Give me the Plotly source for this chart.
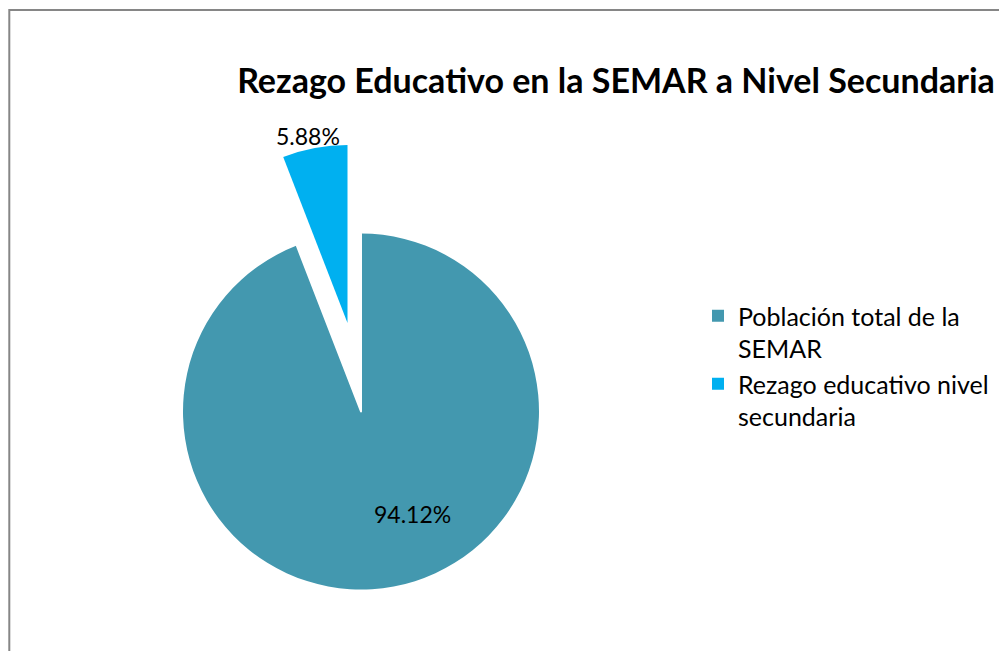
import plotly.graph_objects as go

# Data
labels = ["Población total de la<br>SEMAR", "Rezago educativo nivel<br>secundaria"]
values = [94.12, 5.88]
colors = ["#4398AF", "#00B0F0"]
title_text = "Rezago Educativo en la SEMAR a Nivel Secundaria"

W, H = 999, 651
FONT = "Lato, 'Open Sans', sans-serif"


def px(x):
    return x / W


def py(y):
    return 1 - y / H


# pie geometry in pixels (centre, radius, offset of the exploded slice)
cx, cy, r = 361, 411.5, 178
ex, ey = -13.5, -88.5


def dom(x0, y0, rad):
    return dict(x=[px(x0 - rad), px(x0 + rad)], y=[py(y0 + rad), py(y0 - rad)])


common = dict(
    labels=labels,
    values=values,
    sort=False,
    direction="clockwise",
    rotation=0,
)

total = sum(values)
pct = [v / total for v in values]

fig = go.Figure()

# full pie (gives the legend and the big slice)
fig.add_trace(go.Pie(
    **common,
    domain=dom(cx, cy, r),
    marker=dict(colors=colors, line=dict(width=0)),
    textinfo="none",
    hoverinfo="label+percent",
    showlegend=True,
))

# blank out the small slice at its original place
fig.add_trace(go.Pie(
    **common,
    domain=dom(cx, cy, r),
    marker=dict(colors=["rgba(0,0,0,0)", "#FFFFFF"],
                line=dict(color=["rgba(0,0,0,0)", "#FFFFFF"], width=[0, 2])),
    textinfo="none",
    hoverinfo="skip",
    showlegend=False,
))

# exploded small slice
fig.add_trace(go.Pie(
    **common,
    domain=dom(cx + ex, cy + ey, r),
    marker=dict(colors=["rgba(0,0,0,0)", colors[1]], line=dict(width=0)),
    textinfo="none",
    hoverinfo="label+percent",
    showlegend=False,
))

# data labels
label_pos = [(412, 514), (308, 135.5)]
for p, (lx, ly) in zip(pct, label_pos):
    fig.add_annotation(
        x=px(lx), y=py(ly), xref="paper", yref="paper",
        text=f"{p:.2%}", showarrow=False,
        xanchor="center", yanchor="middle",
        font=dict(family=FONT, size=23, color="#000000"),
    )

fig.update_layout(
    width=W,
    height=H,
    margin=dict(l=0, r=0, t=0, b=0),
    paper_bgcolor="#FFFFFF",
    font=dict(family=FONT, color="#000000"),
    title=dict(
        text="<b>" + title_text + "</b>",
        x=px(616), xanchor="center",
        y=py(81), yanchor="middle",
        font=dict(family=FONT, size=34, color="#000000"),
    ),
    legend=dict(
        x=px(698), xanchor="left",
        y=py(293), yanchor="top",
        valign="top",
        font=dict(family=FONT, size=25, color="#000000"),
        bgcolor="rgba(0,0,0,0)",
    ),
    shapes=[dict(
        type="rect", xref="paper", yref="paper",
        x0=px(9.3), x1=1.2, y0=-0.2, y1=py(10),
        line=dict(color="#868686", width=2),
        layer="below",
    )],
)

# drop the default body margin so the figure fills the window exactly
fig.write_html(
    "out.html",
    config={"displayModeBar": False},
    post_script="document.body.style.margin='0';"
                "document.body.style.overflow='hidden';"
                "document.documentElement.style.overflow='hidden';",
)
